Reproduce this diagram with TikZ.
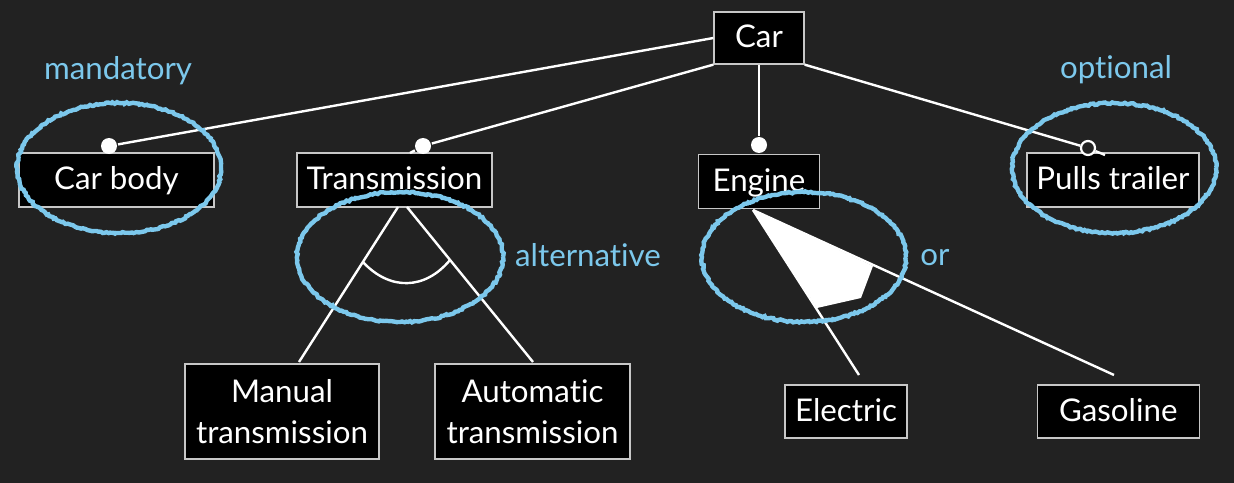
\documentclass[tikz,border=0pt]{standalone}
\usepackage{fontspec}
\setmainfont{Lato}[Ligatures=NoCommon]
\usepackage{tikz}
\usetikzlibrary{positioning}
\usetikzlibrary{decorations.pathmorphing}
\definecolor{bgdark}{HTML}{222222}
\definecolor{chalk}{HTML}{7CC8EC}
\newlength{\pxl}
\setlength{\pxl}{0.02cm}
\tikzstyle{fbase}=[draw=black!22!white, fill=black, text=white, line width=1.3\pxl, minimum height=54\pxl, inner sep=0pt]
\tikzstyle{featbox}=[fbase, text height=22\pxl, text depth=2\pxl]
\tikzstyle{featbig}=[fbase, minimum height=95\pxl, align=center]
\tikzstyle{fdot}=[circle, fill=white, minimum size=16\pxl, inner sep=0pt]
\tikzstyle{odot}=[circle, draw=white, fill=bgdark, line width=2.2\pxl, minimum size=14\pxl, inner sep=0pt]
\tikzstyle{cue}=[text=chalk, anchor=base, inner sep=0pt]
\tikzstyle{ring}=[draw=chalk, line width=4.4\pxl, decorate, decoration={random steps, segment length=1.2pt, amplitude=0.5pt}]

\begin{document}
\begin{tikzpicture}[x=1\pxl, y=-1\pxl, line width=2.4\pxl, white, font=\fontsize{17.8}{23.6}\selectfont]
	\pgfmathsetseed{11}
	\fill[bgdark] (0,0) rectangle (1234,483);
	
	\node (car) [featbox, minimum width=90\pxl, minimum height=52\pxl] at (759,38) {Car};
	%
	\node (cbody) [featbox, minimum width=195\pxl] at (116.5,180) {Car body};
	\node (trans) [featbox, minimum width=195\pxl] at (394.5,180) {Transmission};
	\node (engine) [featbox, minimum width=121\pxl, below=89\pxl of car] {Engine};
	\node (trailer) [featbox, minimum width=172\pxl] at (1113,180) {Pulls trailer};
	%
	\node (manual) [featbig, minimum width=194\pxl] at (282,411.5) {Manual\\transmission};
	\node (auto) [featbig, minimum width=195\pxl] at (532.5,411.5) {Automatic\\transmission};
	\node (elec) [featbox, minimum width=122\pxl, minimum height=53\pxl] at (846,411.5) {Electric};
	\node (gas) [featbox, minimum width=162\pxl, minimum height=53\pxl, right=129\pxl of elec] {Gasoline};
	
	\node (mand) [cue] at (118,80) {mandatory};
	\node (opt) [cue] at (1116,79) {optional};
	\node (alt) [cue] at (588,266) {alternative};
	\node (orl) [cue] at (935,265) {or};
	
	\node (bodydot) [fdot] at (109,146) {};
	\node (transdot) [fdot] at (423,146) {};
	\node (engdot) [fdot] at (759,145) {};
	\node (traildot) [odot] at (1088,148) {};
	\coordinate (transtip) at (410,153);
	\coordinate (trailtip) at (1105,155);
	
	\draw (car.west) -- (bodydot);
	\draw (car.south west) -- (transdot) -- (transtip);
	\draw (car.south) -- (engdot);
	\draw (car.south east) -- (traildot) -- (trailtip);
	
	% alternative group
	\coordinate (altl) at (398,207);
	\coordinate (altr) at (407,207);
	\coordinate (mantip) at (299,362);
	\coordinate (autotip) at (533,362);
	\draw (altl) -- (mantip);
	\draw (altr) -- (autotip);
	\draw (362.9,262) .. controls (390,291) and (425,290) .. (450,260);
	
	% or group
	\coordinate (orapex) at (753,210);
	\coordinate (electip) at (859,375);
	\coordinate (gastip) at (1114,375);
	\fill (orapex) -- (873,266) -- (861,298) -- (817,308) -- cycle;
	\draw (orapex) -- (electip);
	\draw (orapex) -- (gastip);
	
	\draw[ring] (119,168) ellipse [x radius=102\pxl, y radius=65\pxl];
	\draw[ring] (400,257) ellipse [x radius=103\pxl, y radius=65\pxl];
	\draw[ring] (804,257) ellipse [x radius=102\pxl, y radius=65\pxl];
	\draw[ring] (1114,168) ellipse [x radius=102\pxl, y radius=65\pxl];
\end{tikzpicture}
\end{document}
